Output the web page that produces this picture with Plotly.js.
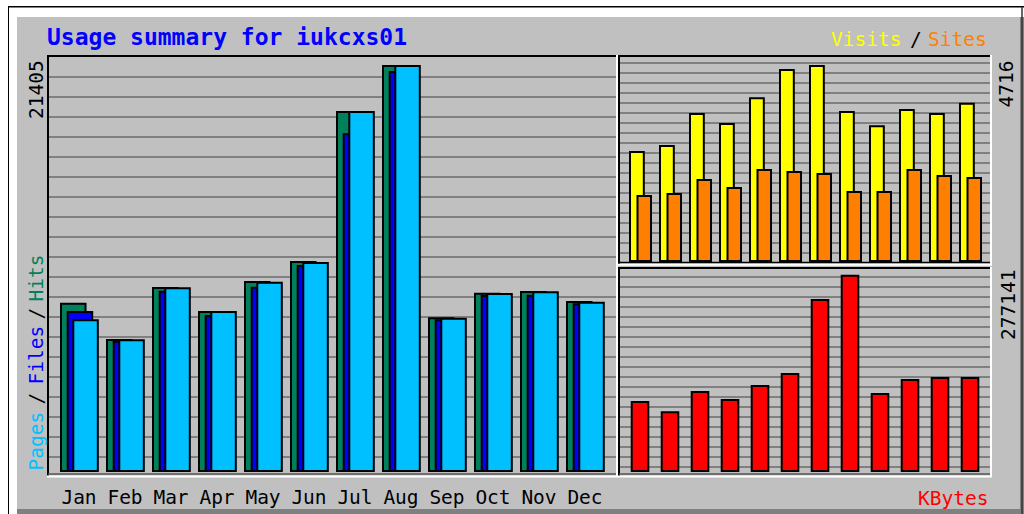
<!DOCTYPE html>
<html>
<head>
<meta charset="utf-8">
<script src="https://cdn.plot.ly/plotly-3.0.1.min.js"></script>
<style>
html,body{margin:0;padding:0;background:#fff;}
#chart{width:1024px;height:514px;}
</style>
</head>
<body>
<div id="chart"></div>
<script>
// ---- data ----
const months = ['Jan','Feb','Mar','Apr','May','Jun','Jul','Aug','Sep','Oct','Nov','Dec'];
const hits   = [8842, 6923, 9672, 8403, 9989, 11046, 18973, 21405, 8070, 9370, 9460, 8932];
const files  = [8403, 6834, 9476, 8192, 9687, 10834, 17795, 21087, 7965, 9249, 9265, 8810];
const pages  = [7965, 6907, 9655, 8403, 9952, 10993, 18973, 21405, 8049, 9354, 9444, 8895];
const visits = [2636, 2781, 3555, 3313, 3934, 4618, 4716, 3603, 3257, 3651, 3555, 3804];
const sites  = [1572, 1620, 1959, 1765, 2200, 2152, 2104, 1668, 1668, 2200, 2055, 2007];
const kbytes = [97911, 83295, 112101, 100749, 120615, 137643, 242649, 277141, 109263, 129129, 131967, 131967];
const maxLabels = {hits: '21405', visits: '4716', kbytes: '277141'};

// ---- helpers (pixel -> paper) ----
const W = 1024, H = 514;
const px = x => x / W;
const py = y => 1 - y / H;
const MONO = 'DejaVu Sans Mono, Liberation Mono, monospace';
const GRAY = '#C0C0C0', DK = '#808080';
const OUT = {color: '#000', width: 2};

function bar(x, y, color, offset, width, xa, ya) {
  return {type: 'bar', x: x, y: y, xaxis: xa, yaxis: ya, offset: offset, width: width,
    marker: {color: color, line: OUT}, hoverinfo: 'skip', showlegend: false};
}

const data = [
  bar(months, hits,  '#00805C', -0.391, 0.533, 'x', 'y'),
  bar(months, files, '#0000FF', -0.246, 0.533, 'x', 'y'),
  bar(months, pages, '#00C0FF', -0.124, 0.533, 'x', 'y'),
  bar(months, visits, '#FFFF00', -0.35, 0.46, 'x2', 'y2'),
  bar(months, sites,  '#FF8000', -0.10, 0.45, 'x2', 'y2'),
  bar(months, kbytes, '#FF0000', -0.293, 0.553, 'x3', 'y3')
];

function line(x0, y0, x1, y1, color, w) {
  return {type: 'line', xref: 'paper', yref: 'paper', x0: px(x0), y0: py(y0), x1: px(x1), y1: py(y1),
    line: {color: color, width: w}, layer: 'above'};
}
function rect(x0, y0, x1, y1, fill) {
  return {type: 'rect', xref: 'paper', yref: 'paper', x0: px(x0), y0: py(y0), x1: px(x1), y1: py(y1),
    fillcolor: fill, line: {width: 0}, layer: 'below'};
}

const shapes = [
  // frame
  rect(8, 6, 1024, 514, '#000'),
  rect(9, 7.5, 1024, 514, '#FFFFFF'),
  rect(17, 17, 1024, 514, DK),
  rect(17, 17, 1020, 509, GRAY),
  line(1022, 7, 1022, 514, '#333', 1.5),
  // left panel bevel
  line(48, 56, 617, 56, '#000', 2),
  line(48, 55, 48, 476, '#000', 2),
  line(48, 474, 617, 474, '#555', 1.5),
  line(47, 476.5, 618, 476.5, '#FFFFFF', 2),
  line(617, 55, 617, 477, '#FFFFFF', 2),
  // top-right panel bevel
  line(619, 56, 991, 56, '#000', 2),
  line(619, 55, 619, 264, '#000', 2),
  line(619, 262.5, 991, 262.5, '#000', 1.5),
  line(618, 264.8, 992, 264.8, '#FFFFFF', 2),
  line(991, 55, 991, 265, '#FFFFFF', 2),
  // bottom-right panel bevel
  line(619, 268, 991, 268, '#000', 2),
  line(619, 267, 619, 476, '#000', 2),
  line(619, 474, 991, 474, '#555', 1.5),
  line(618, 476.5, 992, 476.5, '#FFFFFF', 2),
  line(991, 267, 991, 477, '#FFFFFF', 2)
];

function ann(text, x, y, color, size, opts) {
  return Object.assign({text: text, xref: 'paper', yref: 'paper', x: px(x), y: py(y),
    showarrow: false, xanchor: 'center', yanchor: 'middle',
    font: {family: MONO, size: size, color: color}, borderpad: 0}, opts || {});
}

const annotations = [
  ann('<b>Usage summary for iukcxs01</b>', 46, 37, '#0000FF', 23, {xanchor: 'left'}),
  ann('Visits', 902, 40, '#FFFF00', 19.5, {xanchor: 'right'}),
  ann('/', 915.5, 40, '#000', 19.5),
  ann('Sites', 988, 40, '#FF8000', 19.5, {xanchor: 'right'}),
  ann('KBytes', 989, 498, '#FF0000', 19.5, {xanchor: 'right'}),
  ann('Pages', 35.5, 441, '#00C0FF', 19.5, {textangle: -90}),
  ann('/', 35.5, 399, '#000', 19.5, {textangle: -90}),
  ann('Files', 35.5, 355, '#0000FF', 19.5, {textangle: -90}),
  ann('/', 35.5, 314, '#000', 19.5, {textangle: -90}),
  ann('Hits', 35.5, 278, '#00805C', 19.5, {textangle: -90}),
  ann(maxLabels.hits, 36.5, 89.5, '#000', 19.5, {textangle: -90}),
  ann(maxLabels.visits, 1006.5, 84, '#000', 19.5, {textangle: -90}),
  ann(maxLabels.kbytes, 1008, 305, '#000', 19.5, {textangle: -90})
];

const grid = {showgrid: true, gridcolor: '#808080', gridwidth: 2, zeroline: false,
  showline: false, showticklabels: false, ticks: '', fixedrange: true};
const xhide = {type: 'category', showgrid: false, zeroline: false, showline: false,
  showticklabels: false, ticks: '', fixedrange: true};

const layout = {
  width: W, height: H,
  margin: {l: 0, r: 0, t: 0, b: 0, pad: 0},
  paper_bgcolor: '#FFFFFF',
  plot_bgcolor: GRAY,
  barmode: 'overlay',
  showlegend: false,
  xaxis: Object.assign({}, xhide, {domain: [px(48), px(617)], range: [-0.674, 11.696], anchor: 'y',
    showticklabels: true, tickfont: {family: MONO, size: 19.5, color: '#000'}, ticklabelstandoff: 9}),
  yaxis: Object.assign({}, grid, {domain: [py(474), py(56)], range: [-159, 21933], tick0: 756, dtick: 1057, anchor: 'x'}),
  xaxis2: Object.assign({}, xhide, {domain: [px(619), px(991)], range: [-0.717, 11.683], anchor: 'y2'}),
  yaxis2: Object.assign({}, grid, {domain: [py(263), py(56)], range: [-48, 4957], tick0: 186, dtick: 241.8, anchor: 'x2'}),
  xaxis3: Object.assign({}, xhide, {domain: [px(619), px(991)], range: [-0.717, 11.683], anchor: 'y3'}),
  yaxis3: Object.assign({}, grid, {domain: [py(474), py(267)], range: [-4257, 289476], tick0: 6102, dtick: 14190, anchor: 'x3'}),
  shapes: shapes,
  annotations: annotations
};

Plotly.newPlot('chart', data, layout, {staticPlot: true, displayModeBar: false});
</script>
</body>
</html>
